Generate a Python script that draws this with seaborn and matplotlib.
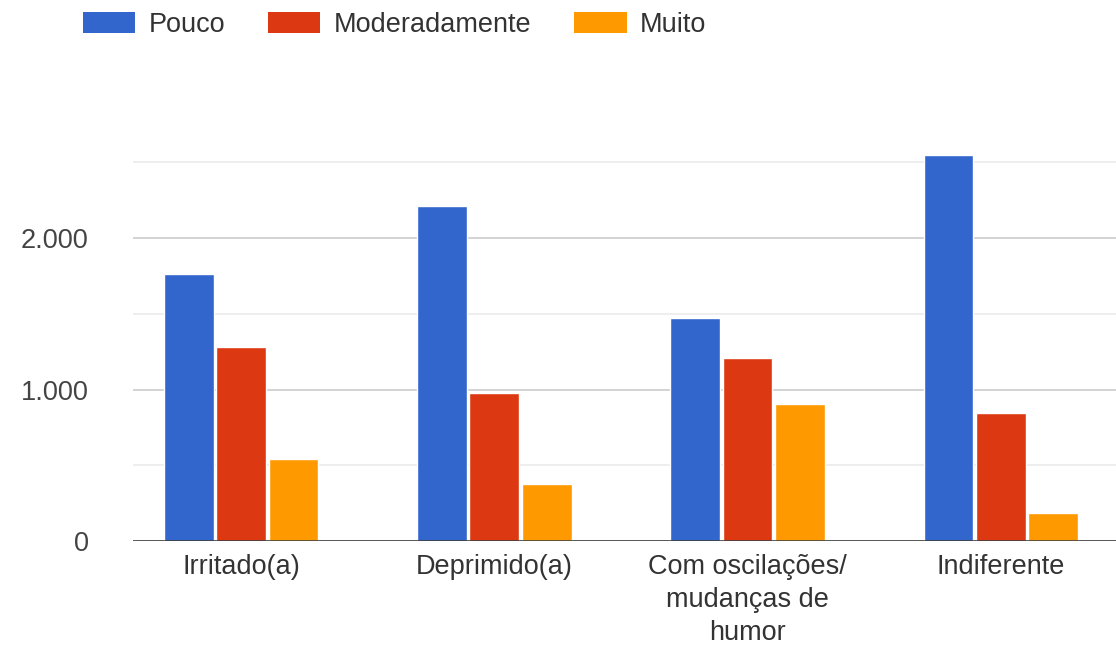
import matplotlib
matplotlib.use("Agg")
import matplotlib.pyplot as plt
from matplotlib.patches import Patch
import seaborn as sns
import pandas as pd

categories = ["Irritado(a)", "Deprimido(a)", "Com oscilações/\nmudanças de\nhumor", "Indiferente"]
series_names = ["Pouco", "Moderadamente", "Muito"]
pouco = [1760, 2210, 1472, 2545]
moderadamente = [1280, 975, 1205, 843]
muito = [540, 376, 903, 183]
colors = ["#3366CC", "#DC3912", "#FF9900"]
y_ticks = [0, 1000, 2000]
y_tick_labels = ["0", "1.000", "2.000"]

rows = []
for name, vals in zip(series_names, [pouco, moderadamente, muito]):
    for c, v in zip(categories, vals):
        rows.append({"cat": c, "serie": name, "valor": v})
df = pd.DataFrame(rows)

sns.set_theme(style="white")
plt.rcParams["font.family"] = ["Liberation Sans", "DejaVu Sans"]

W, H = 1116, 646
fig = plt.figure(figsize=(W / 100, H / 100), dpi=100)
ax = fig.add_axes([133 / W, (H - 541) / H, (W - 133) / W, 424.2 / H])

sns.barplot(data=df, x="cat", y="valor", hue="serie", order=categories,
            hue_order=series_names, palette=colors, width=0.62, gap=0.05,
            saturation=1, ax=ax, legend=False, errorbar=None)

ax.set_ylim(0, 2800)
ax.set_xlim(-0.427, 3.455)
ax.set_yticks(y_ticks)
ax.set_yticklabels(y_tick_labels)
ax.set_yticks([500, 1500, 2500], minor=True)
ax.set_axisbelow(True)
ax.grid(axis="y", which="major", color="#cccccc", lw=1.2)
ax.grid(axis="y", which="minor", color="#ebebeb", lw=1.2)
ax.axhline(0, color="#333333", lw=1.8, zorder=5)
for s in ax.spines.values():
    s.set_visible(False)
ax.set_xlabel("")
ax.set_ylabel("")
ax.tick_params(axis="y", which="both", length=0, pad=32, labelsize=19.5, labelcolor="#444444")
ax.tick_params(axis="x", length=0, pad=9, labelsize=19.5, labelcolor="#333333")
for t in ax.get_xticklabels():
    t.set_linespacing(1.37)
    t.set_multialignment("center")

handles = [Patch(facecolor=c, edgecolor="none") for c in colors]
fig.legend(handles, series_names, loc="upper left", bbox_to_anchor=(83 / W, 1 - 12 / H),
           bbox_transform=fig.transFigure, ncol=3, frameon=False, fontsize=19.5,
           handlelength=1.93, handleheight=0.78, handletextpad=0.48,
           columnspacing=1.6, borderpad=0, borderaxespad=0, labelcolor="#333333")

fig.savefig("out.png", dpi=100, facecolor="white")
